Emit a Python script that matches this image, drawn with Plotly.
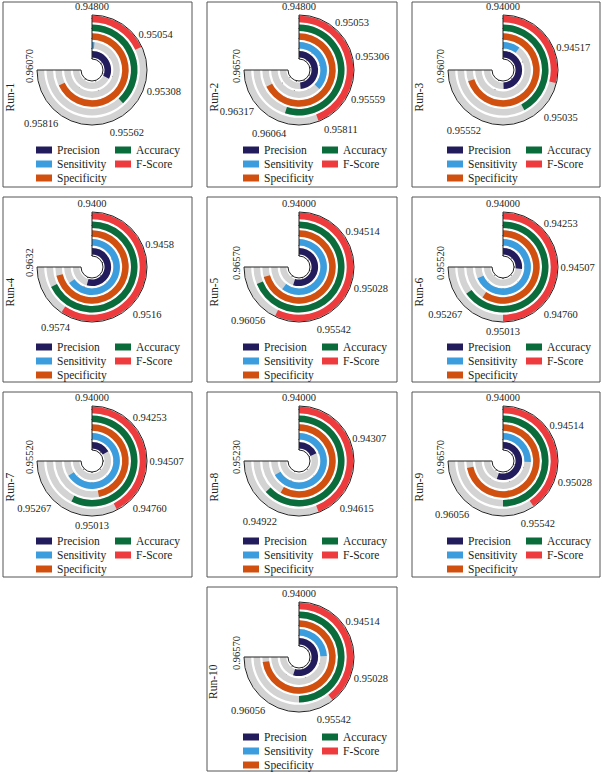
import plotly.graph_objects as go

# ---------------- data ----------------
metrics = ["Precision", "Sensitivity", "Specificity", "Accuracy", "F-Score"]
run_names = ["Run-1", "Run-2", "Run-3", "Run-4", "Run-5",
             "Run-6", "Run-7", "Run-8", "Run-9", "Run-10"]

run1_ticks = ["0.94800", "0.95054", "0.95308", "0.95562", "0.95816", "0.96070"]
run2_ticks = ["0.94800", "0.95053", "0.95306", "0.95559", "0.95811", "0.96064", "0.96317", "0.96570"]
run3_ticks = ["0.94000", "0.94517", "0.95035", "0.95552", "0.96070"]
run4_ticks = ["0.9400", "0.9458", "0.9516", "0.9574", "0.9632"]
run5_ticks = ["0.94000", "0.94514", "0.95028", "0.95542", "0.96056", "0.96570"]
run6_ticks = ["0.94000", "0.94253", "0.94507", "0.94760", "0.95013", "0.95267", "0.95520"]
run7_ticks = ["0.94000", "0.94253", "0.94507", "0.94760", "0.95013", "0.95267", "0.95520"]
run8_ticks = ["0.94000", "0.94307", "0.94615", "0.94922", "0.95230"]
run9_ticks = ["0.94000", "0.94514", "0.95028", "0.95542", "0.96056", "0.96570"]
run10_ticks = ["0.94000", "0.94514", "0.95028", "0.95542", "0.96056", "0.96570"]

# values per run, in order: Precision, Sensitivity, Specificity, Accuracy, F-Score
run1_values = [0.95350, 0.94824, 0.95952, 0.95444, 0.95106]
run2_values = [0.95947, 0.95672, 0.96393, 0.96098, 0.95842]
run3_values = [0.95365, 0.94276, 0.95932, 0.95165, 0.94797]
run4_values = [0.95684, 0.96019, 0.96200, 0.96097, 0.95839]
run5_values = [0.95885, 0.96066, 0.96418, 0.96361, 0.95961]
run6_values = [0.94540, 0.95385, 0.95205, 0.95317, 0.95013]
run7_values = [0.94332, 0.95340, 0.94951, 0.95165, 0.94861]
run8_values = [0.94301, 0.95093, 0.94957, 0.95034, 0.94724]
run9_values = [0.95894, 0.94876, 0.96465, 0.95713, 0.95390]
run10_values = [0.95885, 0.94838, 0.96494, 0.95713, 0.95352]

all_ticks = [run1_ticks, run2_ticks, run3_ticks, run4_ticks, run5_ticks,
             run6_ticks, run7_ticks, run8_ticks, run9_ticks, run10_ticks]
all_values = [run1_values, run2_values, run3_values, run4_values, run5_values,
              run6_values, run7_values, run8_values, run9_values, run10_values]

# ---------------- style / layout ----------------
W, H = 602, 774
colors = ["#231c5c", "#3b9ddd", "#d2500f", "#0a6b3b", "#ee3b3d"]
track_color = "#d3d3d3"
text_color = "#231f20"
FONT = "Liberation Serif"
SWEEP = 270.0
R = 55          # polar radius in px
RING_BASE = 0.18
RING_W = 0.74

col_cx = [92, 299, 503]
col_left = [3, 207, 412]
col_right = [192, 397, 600]
row_cy = [70, 267, 461, 657]
row_top = [2, 197, 392, 587]
row_bot = [187, 382, 577, 771]
panel_pos = [(0, 0), (0, 1), (0, 2), (1, 0), (1, 1), (1, 2),
             (2, 0), (2, 1), (2, 2), (3, 1)]

legend_layout = [  # (metric index, column, row)
    (0, 0, 0), (1, 0, 1), (2, 0, 2), (3, 1, 0), (4, 1, 1)]


def px_x(x):
    return x / W


def px_y(y):
    return 1 - y / H


fig = go.Figure()
shapes = []
annotations = []
layout_polars = {}

for k in range(10):
    row, col = panel_pos[k]
    cx, cy = col_cx[col], row_cy[row]
    ticks = all_ticks[k]
    vals = all_values[k]
    lo, hi = float(ticks[0]), float(ticks[-1])
    n = len(ticks) - 1
    sub = "polar" if k == 0 else f"polar{k + 1}"

    # gray tracks
    fig.add_trace(go.Barpolar(
        r=[RING_W] * 5, base=[i + RING_BASE for i in range(5)],
        theta=[SWEEP / 2] * 5, width=[SWEEP] * 5,
        marker=dict(color=track_color, line=dict(width=0)),
        subplot=sub, showlegend=False, hoverinfo="skip"))

    # colored bars
    for i, m in enumerate(metrics):
        ang = (vals[i] - lo) / (hi - lo) * SWEEP
        fig.add_trace(go.Barpolar(
            r=[RING_W], base=[i + RING_BASE], theta=[ang / 2], width=[ang],
            marker=dict(color=colors[i], line=dict(width=0)),
            name=m, subplot=sub, showlegend=False,
            hovertemplate=f"{run_names[k]}<br>{m}: {vals[i]:.5f}<extra></extra>"))

    layout_polars[sub] = dict(
        domain=dict(x=[px_x(cx - R), px_x(cx + R)], y=[px_y(cy + R), px_y(cy - R)]),
        sector=[-180, 90],
        hole=0.2,
        barmode="overlay",
        bgcolor="rgba(0,0,0,0)",
        angularaxis=dict(
            type="linear", thetaunit="degrees", rotation=90, direction="clockwise",
            tickmode="array",
            tickvals=[j * SWEEP / n for j in range(n)],
            ticktext=ticks[:-1],
            ticks="", showline=True, linecolor="#222222", linewidth=1,
            showgrid=True, gridcolor="#222222", griddash="1px,9px", gridwidth=1,
            tickfont=dict(family=FONT, size=10.5, color=text_color)),
        radialaxis=dict(
            range=[0, 5], showticklabels=False, ticks="", showline=False,
            tickmode="array", tickvals=[i + RING_BASE + RING_W / 2 for i in range(5)],
            showgrid=True, gridcolor="white", griddash="dot", gridwidth=1),
    )

    # last (west) tick label, rotated
    annotations.append(dict(
        x=px_x(cx - R - 8), y=px_y(cy - 4), xref="paper", yref="paper",
        text=ticks[-1], textangle=-90, showarrow=False,
        xanchor="center", yanchor="middle",
        font=dict(family=FONT, size=10.5, color=text_color)))

    # panel frame
    shapes.append(dict(type="rect", xref="paper", yref="paper",
                       x0=px_x(col_left[col]), x1=px_x(col_right[col]),
                       y0=px_y(row_bot[row]), y1=px_y(row_top[row]),
                       line=dict(color="#555555", width=1)))

    # run label
    annotations.append(dict(
        x=px_x(col_left[col] + 6), y=px_y((row_top[row] + row_bot[row]) / 2 + 3),
        xref="paper", yref="paper", text=run_names[k], textangle=-90,
        showarrow=False, xanchor="center", yanchor="middle",
        font=dict(family=FONT, size=11.5, color=text_color)))

    # legend
    for mi, lc, lr in legend_layout:
        rx0 = cx - 56 if lc == 0 else cx + 23
        ry = cy + 80 + 14 * lr
        shapes.append(dict(type="rect", xref="paper", yref="paper",
                           x0=px_x(rx0), x1=px_x(rx0 + 16),
                           y0=px_y(ry + 3.5), y1=px_y(ry - 3.5),
                           fillcolor=colors[mi], line=dict(width=0)))
        annotations.append(dict(
            x=px_x(rx0 + 19), y=px_y(ry), xref="paper", yref="paper",
            text=metrics[mi], showarrow=False, xanchor="left", yanchor="middle",
            font=dict(family=FONT, size=11.5, color=text_color)))

fig.update_layout(
    width=W, height=H,
    margin=dict(l=0, r=0, t=0, b=0),
    paper_bgcolor="white", plot_bgcolor="white",
    font=dict(family=FONT, size=10, color=text_color),
    showlegend=False,
    shapes=shapes, annotations=annotations,
    **layout_polars)

fig.write_html(
    "out.html",
    config={"displayModeBar": False},
    post_script="document.body.style.margin='0';document.body.style.overflow='hidden';")
